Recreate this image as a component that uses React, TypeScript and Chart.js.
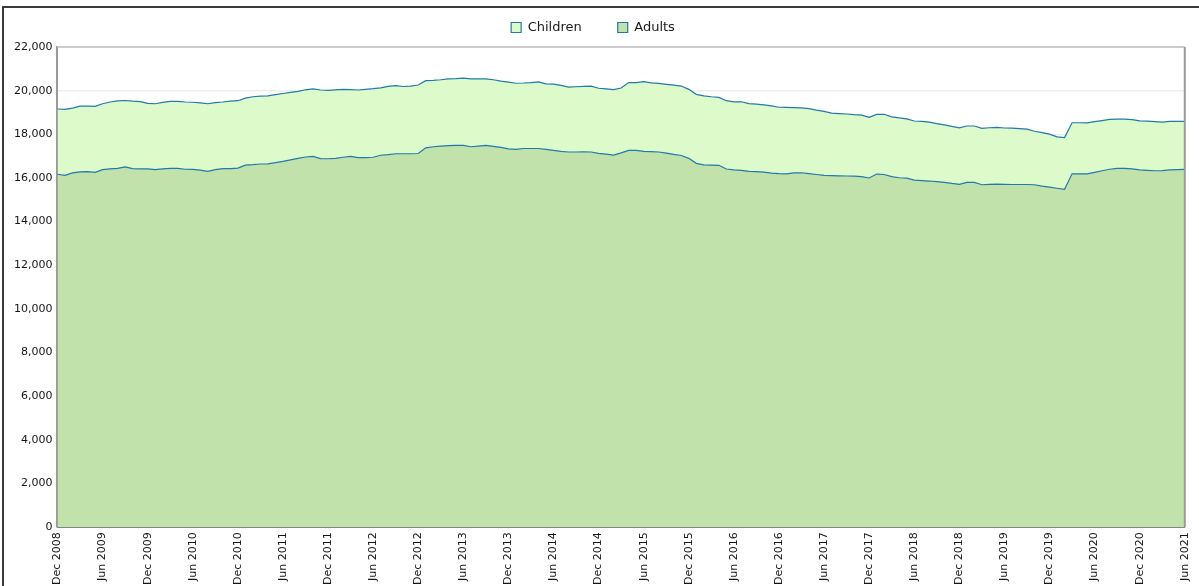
import React, { useEffect, useRef } from "react";
import { Chart, registerables } from "chart.js";

Chart.register(...registerables);

const MONTH_NAMES = ["Jan", "Feb", "Mar", "Apr", "May", "Jun", "Jul", "Aug", "Sep", "Oct", "Nov", "Dec"];
const START_YEAR = 2008;
const START_MONTH = 11; // December
const MONTH_COUNT = 151; // Dec 2008 .. Jun 2021

const monthLabels: string[] = [];
for (let i = 0; i < MONTH_COUNT; i++) {
  const m = (START_MONTH + i) % 12;
  const y = START_YEAR + Math.floor((START_MONTH + i) / 12);
  monthLabels.push(`${MONTH_NAMES[m]} ${y}`);
}

const adults: number[] = [
  16170, 16120, 16230, 16280, 16290, 16260, 16380, 16420, 16440, 16510, 16430, 16420,
  16420, 16380, 16420, 16440, 16440, 16400, 16390, 16360, 16300, 16380, 16430, 16430,
  16450, 16590, 16610, 16640, 16650, 16700, 16760, 16830, 16900, 16960, 16990, 16890,
  16880, 16900, 16950, 16990, 16930, 16930, 16950, 17040, 17070, 17110, 17110, 17110,
  17120, 17380, 17430, 17460, 17480, 17490, 17490, 17430, 17460, 17490, 17450, 17400,
  17330, 17310, 17350, 17350, 17350, 17310, 17260, 17220, 17190, 17190, 17200, 17190,
  17130, 17090, 17050, 17150, 17260, 17260, 17220, 17210, 17190, 17140, 17080, 17030,
  16900, 16670, 16600, 16590, 16580, 16410, 16370, 16350, 16300, 16290, 16270, 16220,
  16200, 16190, 16230, 16240, 16200, 16160, 16120, 16110, 16100, 16090, 16080, 16060,
  16000, 16180, 16160, 16060, 16010, 15990, 15900, 15880, 15860, 15830, 15800, 15750,
  15710, 15800, 15800, 15690, 15710, 15720, 15710, 15700, 15700, 15700, 15690, 15630,
  15580, 15530, 15480, 16190, 16190, 16190, 16260, 16330, 16400, 16440, 16440, 16420,
  16370, 16350, 16330, 16340, 16370, 16380, 16390,
];

const children: number[] = [
  2990, 3020, 2970, 3010, 3000, 3020, 3020, 3060, 3090, 3040, 3090, 3080,
  3000, 3020, 3040, 3070, 3070, 3080, 3080, 3080, 3100, 3070, 3050, 3090,
  3090, 3070, 3110, 3110, 3110, 3120, 3110, 3090, 3070, 3080, 3090, 3140,
  3130, 3140, 3110, 3060, 3100, 3130, 3140, 3090, 3130, 3120, 3080, 3100,
  3140, 3080, 3040, 3040, 3060, 3060, 3080, 3110, 3080, 3050, 3050, 3040,
  3060, 3030, 3000, 3020, 3050, 3000, 3040, 3020, 2970, 2990, 3000, 3020,
  2980, 2990, 3000, 2970, 3110, 3110, 3190, 3150, 3140, 3150, 3170, 3180,
  3160, 3160, 3160, 3130, 3110, 3130, 3120, 3140, 3110, 3090, 3080, 3080,
  3040, 3040, 2990, 2970, 2980, 2950, 2930, 2860, 2850, 2840, 2820, 2820,
  2780, 2730, 2760, 2740, 2740, 2720, 2710, 2710, 2700, 2660, 2630, 2610,
  2590, 2580, 2580, 2580, 2590, 2600, 2580, 2580, 2560, 2540, 2450, 2450,
  2430, 2350, 2370, 2340, 2340, 2330, 2320, 2300, 2280, 2260, 2260, 2250,
  2250, 2250, 2250, 2220, 2220, 2210, 2200,
];

const Y_MAX = 22000;
const Y_STEP = 2000;

const FONT = "'DejaVu Sans', Verdana, sans-serif";

const frameBorders = {
  id: "frameBorders",
  afterDraw(chart: any) {
    const { ctx, chartArea } = chart;
    ctx.save();
    ctx.lineWidth = 2;
    ctx.strokeStyle = "#cccccc";
    ctx.beginPath();
    ctx.moveTo(chartArea.left, chartArea.top);
    ctx.lineTo(chartArea.right, chartArea.top);
    ctx.stroke();
    ctx.strokeStyle = "#9a9a9a";
    ctx.beginPath();
    ctx.moveTo(chartArea.right, chartArea.top);
    ctx.lineTo(chartArea.right, chartArea.bottom);
    ctx.stroke();
    ctx.restore();
  },
};

// Adds a little space under the legend and nudges it slightly left.
const legendTweak = {
  id: "legendTweak",
  beforeLayout(chart: any) {
    const legend = chart.legend;
    if (!legend || legend.__tweaked) return;
    legend.__tweaked = true;
    const origFit = legend.fit;
    legend.fit = function () {
      origFit.call(this);
      this.height += 3;
    };
    const origDraw = legend.draw;
    legend.draw = function (...args: any[]) {
      const ctx = this.ctx;
      ctx.save();
      ctx.translate(-10, 0);
      origDraw.apply(this, args);
      ctx.restore();
    };
  },
};

export default function App() {
  const canvasRef = useRef<HTMLCanvasElement | null>(null);

  useEffect(() => {
    if (!canvasRef.current) return;
    const chart = new Chart(canvasRef.current, {
      type: "line",
      data: {
        labels: monthLabels,
        datasets: [
          {
            label: "Adults",
            data: adults,
            backgroundColor: "#c1e2aa",
            borderColor: "#2279aa",
            borderWidth: 1.2,
            pointRadius: 0,
            fill: "origin",
            tension: 0,
          },
          {
            label: "Children",
            data: children,
            backgroundColor: "#ddfacb",
            borderColor: "#2279aa",
            borderWidth: 1.2,
            pointRadius: 0,
            fill: "-1",
            tension: 0,
          },
        ],
      },
      options: {
        animation: false,
        responsive: true,
        maintainAspectRatio: false,
        layout: { padding: { left: 9, right: 6, top: 0, bottom: 1 } },
        plugins: {
          legend: {
            position: "top",
            reverse: true,
            labels: {
              boxWidth: 10,
              boxHeight: 10,
              padding: 36,
              color: "#1a1a1a",
              font: { family: FONT, size: 13 },
            },
          },
          tooltip: { enabled: false },
        },
        scales: {
          x: {
            type: "category",
            stacked: true,
            offset: false,
            grid: { display: false, drawTicks: false },
            border: { display: true, color: "#111111", width: 1.5 },
            ticks: {
              autoSkip: false,
              minRotation: 90,
              maxRotation: 90,
              padding: 5,
              color: "#151515",
              font: { family: FONT, size: 11 },
              callback: (_v: any, idx: number) => (idx % 6 === 0 ? monthLabels[idx] : null),
            },
          },
          y: {
            stacked: true,
            min: 0,
            max: Y_MAX,
            z: 1,
            grid: { color: "rgba(0,0,0,0.07)", lineWidth: 1.5, drawTicks: false },
            border: { display: true, color: "#9a9a9a", width: 2 },
            ticks: {
              stepSize: Y_STEP,
              padding: 5,
              color: "#151515",
              font: { family: FONT, size: 11 },
              callback: (v: any) => Number(v).toLocaleString("en-US"),
            },
          },
        },
      },
      plugins: [frameBorders, legendTweak],
    });
    return () => chart.destroy();
  }, []);

  return (
    <div style={{ position: "absolute", left: 0, top: 0, width: 1199, height: 586, overflow: "hidden", background: "#ffffff" }}>
      <div
        style={{
          position: "absolute",
          left: 2,
          top: 6,
          width: 1197,
          height: 600,
          borderTop: "2px solid #3a3a3a",
          borderLeft: "2px solid #3a3a3a",
          boxSizing: "border-box",
        }}
      />
      <div style={{ position: "absolute", left: 0, top: -15, width: 1203, height: 606 }}>
        <canvas ref={canvasRef} />
      </div>
    </div>
  );
}
